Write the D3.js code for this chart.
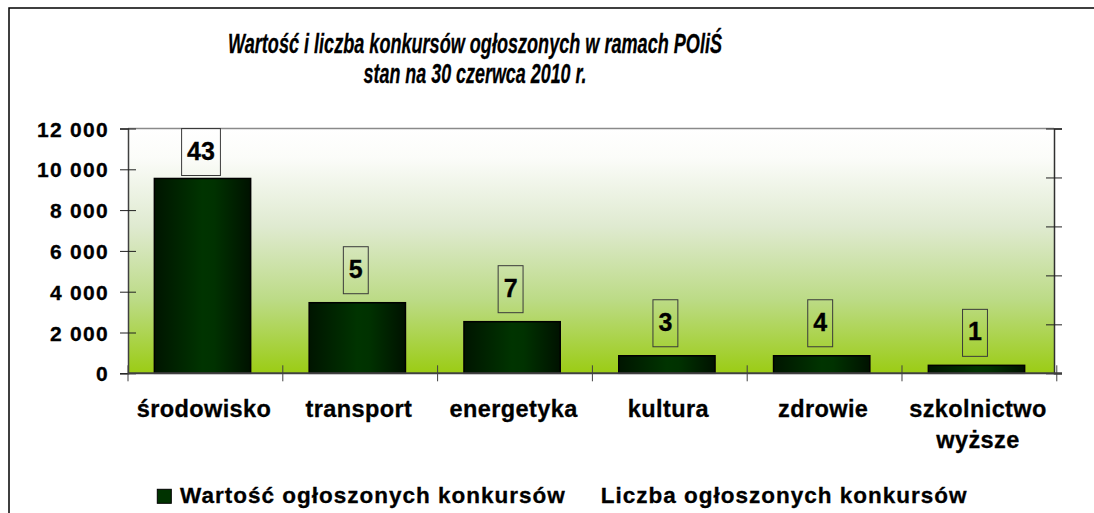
<!DOCTYPE html>
<html>
<head>
<meta charset="utf-8">
<script src="https://cdn.jsdelivr.net/npm/d3@7"></script>
<style>
  body { margin: 0; background: #fff; }
  text { font-family: "Liberation Sans", Arial, sans-serif; font-weight: bold; fill: #000; stroke: #000; stroke-width: 0.3px; }
</style>
</head>
<body>
<div id="chart"></div>
<script>
// chart data
var categories = ["środowisko", "transport", "energetyka", "kultura", "zdrowie", "szkolnictwo wyższe"];
var values = [9550, 3460, 2530, 860, 860, 390];      // Wartość ogłoszonych konkursów
var counts = [43, 5, 7, 3, 4, 1];                     // Liczba ogłoszonych konkursów
var yTicks = [0, 2000, 4000, 6000, 8000, 10000, 12000];
var y2Ticks = [0, 10, 20, 30, 40, 50];
var seriesNames = ["Wartość ogłoszonych konkursów", "Liczba ogłoszonych konkursów"];
var titleLines = ["Wartość i liczba konkursów ogłoszonych w ramach POliŚ", "stan na 30 czerwca 2010 r."];

var width = 1094, height = 513;
var margin = {top: 128.5, right: 40, bottom: 139.7, left: 128};
var w = width - margin.left - margin.right,
    h = height - margin.top - margin.bottom;

var pl = d3.formatLocale({decimal: ",", thousands: "\u00a0", grouping: [3], currency: ["", " zł"]});
var fmt = pl.format(",d");

var svg = d3.select("#chart").append("svg")
    .attr("width", width)
    .attr("height", height);

var defs = svg.append("defs");

// plot area background: white at top -> yellow green at bottom
var bg = defs.append("linearGradient")
    .attr("id", "bg").attr("x1", 0).attr("y1", 0).attr("x2", 0).attr("y2", 1);
bg.append("stop").attr("offset", "0").attr("stop-color", "#ffffff");
bg.append("stop").attr("offset", "0.12").attr("stop-color", "#fbfcf9");
bg.append("stop").attr("offset", "0.4").attr("stop-color", "#dfead0");
bg.append("stop").attr("offset", "0.7").attr("stop-color", "#bcdb86");
bg.append("stop").attr("offset", "1").attr("stop-color", "#9bcc14");

// bar fill: dark edges, green middle
var bf = defs.append("linearGradient")
    .attr("id", "bar").attr("x1", 0).attr("y1", 0).attr("x2", 1).attr("y2", 0);
bf.append("stop").attr("offset", "0").attr("stop-color", "#001500");
bf.append("stop").attr("offset", "0.5").attr("stop-color", "#003400");
bf.append("stop").attr("offset", "0.62").attr("stop-color", "#003200");
bf.append("stop").attr("offset", "1").attr("stop-color", "#001200");

// outer chart border (cut by the picture at right and bottom)
svg.append("rect")
    .attr("x", 9).attr("y", 8)
    .attr("width", width + 20).attr("height", height + 20)
    .attr("fill", "none")
    .attr("stroke", "#000")
    .attr("stroke-width", 1.5);

// title
svg.selectAll(".title")
    .data(titleLines)
  .enter().append("text")
    .attr("class", "title")
    .attr("x", 475)
    .attr("y", function(d, i) { return 52.8 + i * 30.2; })
    .attr("text-anchor", "middle")
    .style("font-style", "italic")
    .style("font-size", "28px")
    .attr("textLength", function(d, i) { return i === 0 ? 494 : 223; })
    .attr("lengthAdjust", "spacingAndGlyphs")
    .text(function(d) { return d; });

var g = svg.append("g")
    .attr("transform", "translate(" + margin.left + "," + margin.top + ")");

var x = d3.scaleBand()
    .domain(categories)
    .range([0, w])
    .paddingInner(0.378)
    .paddingOuter(0.18);

var y = d3.scaleLinear().domain([0, 12000]).range([h, 0]);
var y2 = d3.scaleLinear().domain([0, 50]).range([h, 0]);

var step = x.step();

g.append("rect")
    .attr("width", w)
    .attr("height", h)
    .attr("fill", "url(#bg)");

// top border of plot area
g.append("line")
    .attr("x1", 0).attr("x2", w)
    .attr("y1", 0).attr("y2", 0)
    .attr("stroke", "#8a8a8a")
    .attr("stroke-width", 1.5);

// bars
g.selectAll(".bar")
    .data(values)
  .enter().append("rect")
    .attr("class", "bar")
    .attr("x", function(d, i) { return x(categories[i]) - 1.5; })
    .attr("y", function(d) { return y(d); })
    .attr("width", x.bandwidth())
    .attr("height", function(d) { return h - y(d); })
    .attr("fill", "url(#bar)")
    .attr("stroke", "#000")
    .attr("stroke-width", 1.5);

// left axis
var yAxis = g.append("g")
    .call(d3.axisLeft(y).tickValues(yTicks).tickFormat(fmt).tickSize(8).tickPadding(11));
yAxis.select(".domain").attr("stroke", "#404040").attr("stroke-width", 1.5);
yAxis.selectAll(".tick line").attr("x1", 8).attr("stroke", "#202020");
yAxis.selectAll(".tick text")
    .attr("fill", "#000")
    .attr("dy", "0.36em")
    .style("font-size", "21px")
    .style("letter-spacing", "1.3px")
    .style("font-family", "Liberation Sans, Arial, sans-serif");

// right (secondary) axis, no labels
var y2Axis = g.append("g")
    .attr("transform", "translate(" + w + ",0)")
    .call(d3.axisRight(y2).tickValues(y2Ticks).tickFormat("").tickSize(8));
y2Axis.select(".domain").attr("stroke", "#303030").attr("stroke-width", 1.5);
y2Axis.selectAll(".tick line").attr("x1", -8).attr("stroke", "#202020");

// bottom axis line and category separators
g.append("line")
    .attr("x1", 0).attr("x2", w + 8)
    .attr("y1", h).attr("y2", h)
    .attr("stroke", "#404040")
    .attr("stroke-width", 2);

g.selectAll(".sep")
    .data(d3.range(categories.length + 1))
  .enter().append("line")
    .attr("class", "sep")
    .attr("x1", function(i) { return i * step; })
    .attr("x2", function(i) { return i * step; })
    .attr("y1", h - 8).attr("y2", h + 8)
    .attr("stroke", "#404040")
    .attr("stroke-width", 1);

// category labels, wrapped to the band width
var cat = g.selectAll(".cat")
    .data(categories)
  .enter().append("text")
    .attr("class", "cat")
    .attr("x", function(d) { return x(d) + x.bandwidth() / 2; })
    .attr("y", h + 43.4)
    .attr("text-anchor", "middle")
    .style("font-size", "23.5px")
    .style("letter-spacing", "0.4px");

cat.each(function(d) {
  var t = d3.select(this);
  var cx = x(d) + x.bandwidth() / 2;
  var words = d.split(" "), line = [];
  var ts = t.append("tspan").attr("x", cx).attr("dy", 0);
  words.forEach(function(wd) {
    line.push(wd);
    ts.text(line.join(" "));
    if (ts.node().getComputedTextLength() > step - 6 && line.length > 1) {
      line.pop();
      ts.text(line.join(" "));
      line = [wd];
      ts = t.append("tspan").attr("x", cx).attr("dy", 31.6).text(wd);
    }
  });
});

// count labels in boxes above the bars
var boxH = 47;
var lab = g.selectAll(".lab")
    .data(counts)
  .enter().append("g")
    .attr("class", "lab");

lab.each(function(d, i) {
  var el = d3.select(this);
  var cx = x(categories[i]) + x.bandwidth() / 2 - 3;
  var bottom = y(values[i]) - 9;
  var top = Math.max(0, bottom - boxH);
  var t = el.append("text")
      .attr("x", cx)
      .attr("y", top + boxH / 2 + 7.5)
      .attr("text-anchor", "middle")
      .style("font-size", "25px")
      .text(d);
  var tw = t.node().getComputedTextLength();
  el.insert("rect", "text")
      .attr("x", cx - tw / 2 - 5.5)
      .attr("y", top)
      .attr("width", tw + 11)
      .attr("height", boxH)
      .attr("fill", "none")
      .attr("stroke", "#3a3a3a")
      .attr("stroke-width", 1);
});

// legend
var leg = svg.append("g").attr("transform", "translate(157.3,502.7)");
leg.append("rect")
    .attr("x", 0).attr("y", -13.4)
    .attr("width", 14).attr("height", 14)
    .attr("fill", "#003300")
    .attr("stroke", "#000")
    .attr("stroke-width", 1);
var lt1 = leg.append("text")
    .attr("x", 22.7)
    .style("font-size", "22.5px")
    .style("letter-spacing", "1px")
    .text(seriesNames[0]);
var w1 = lt1.node().getComputedTextLength();
leg.append("text")
    .attr("x", 22.7 + w1 + 35)
    .style("font-size", "22.5px")
    .style("letter-spacing", "1px")
    .text(seriesNames[1]);
</script>
</body>
</html>
